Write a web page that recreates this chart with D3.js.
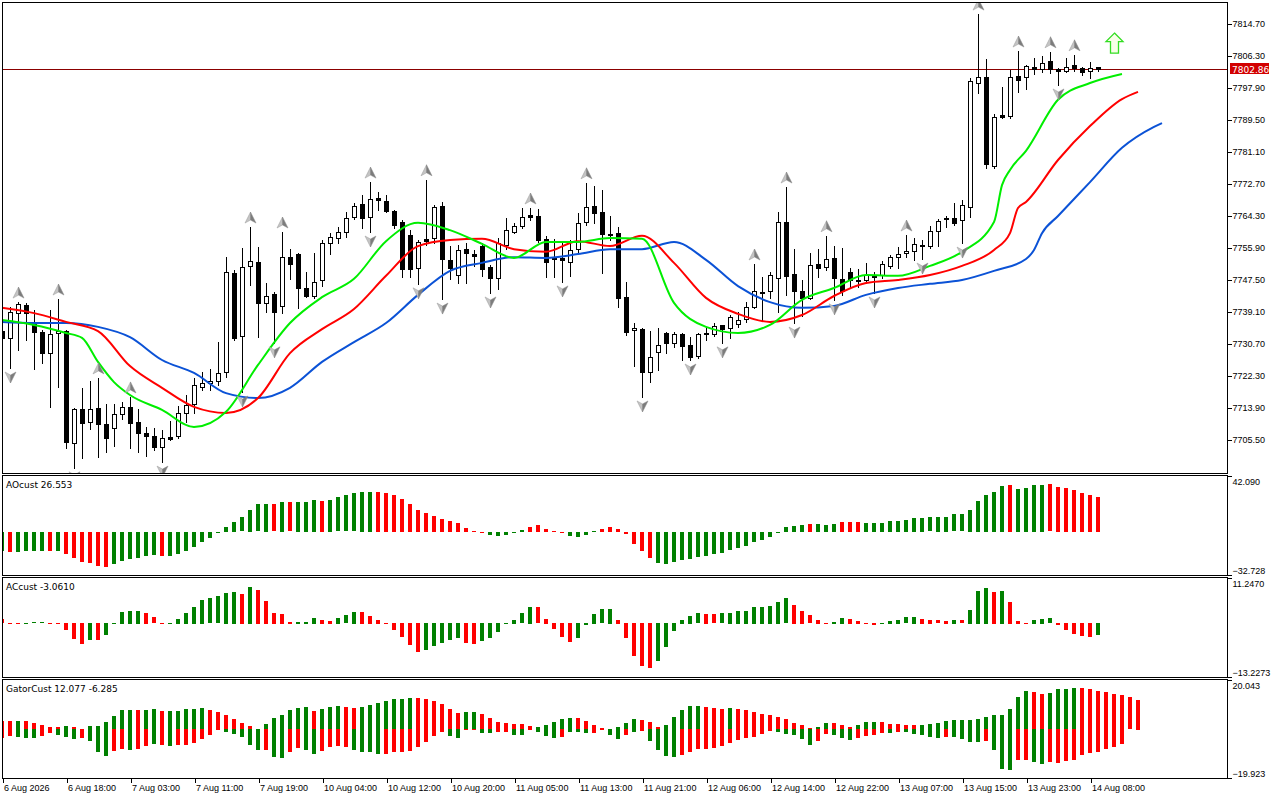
<!DOCTYPE html>
<html>
<head>
<meta charset="utf-8">
<style>
  body { margin: 0; background: #fff; }
  svg { display: block; font-family: Tahoma, "DejaVu Sans", sans-serif; }
  .axis text { font-size: 9px; fill: #000; }
  .axis path.domain { display: none; }
  .axis line { stroke: #000; shape-rendering: crispEdges; }
  .lbl { font-size: 9px; fill: #000; }
</style>
<script src="https://cdnjs.cloudflare.com/ajax/libs/d3/7.8.5/d3.min.js"></script>
</head>
<body>
<script>
// ---- data (hourly bars, index 0 = leftmost) ----
const open = [7734.1,7732.3,7738.8,7740.9,7736.2,7733.9,7728.3,7733.6,7734.1,7704.7,
  7713.6,7710.2,7713.9,7709.7,7708.7,7712.3,7714.2,7710.2,7707.3,7706.6,
  7703.7,7706.3,7706.6,7712.6,7715.0,7719.4,7720.5,7721.0,7723.4,7749.3,
  7732.8,7751.2,7752.2,7741.5,7743.8,7740.7,7753.5,7754.3,7745.4,7743.3,
  7747.5,7757.2,7758.5,7760.1,7764.0,7767.5,7764.0,7769.0,7768.2,7765.6,
  7762.7,7759.3,7750.7,7758.3,7758.5,7766.9,7752.8,7748.8,7755.6,7754.3,
  7756.4,7750.9,7748.0,7756.7,7760.1,7761.7,7764.6,7764.3,7758.3,7753.3,
  7753.3,7752.2,7755.6,7762.7,7766.9,7765.4,7759.6,7759.8,7743.0,7734.4,
  7734.6,7723.4,7728.6,7733.6,7731.0,7733.3,7730.4,7727.6,7733.6,7733.3,
  7735.7,7734.9,7736.0,7737.3,7740.4,7744.4,7744.6,7748.0,7762.7,7749.1,
  7744.6,7742.8,7751.7,7750.9,7753.3,7747.8,7749.6,7747.5,7747.5,7748.3,
  7748.8,7751.2,7753.5,7754.6,7755.1,7756.4,7756.4,7760.4,7763.8,7763.8,
  7763.3,7766.7,7799.2,7800.8,7777.4,7790.8,7790.5,7801.0,7800.8,7803.4,
  7802.9,7805.0,7802.9,7802.4,7803.9,7803.2,7802.4,7803.4];
const high = [7735.4,7740.4,7741.7,7741.5,7739.6,7734.4,7739.6,7742.5,7734.3,7713.9,
  7719.2,7721.0,7721.8,7715.0,7715.0,7715.5,7716.8,7713.6,7708.9,7708.7,
  7708.1,7710.5,7714.4,7717.3,7721.8,7723.4,7724.1,7731.2,7753.5,7750.1,
  7755.9,7761.4,7756.2,7746.7,7744.4,7760.1,7755.6,7754.6,7749.6,7754.6,
  7758.0,7759.8,7761.4,7765.4,7767.7,7769.8,7773.2,7770.6,7769.8,7765.8,
  7763.3,7760.6,7758.0,7773.8,7767.2,7768.0,7756.4,7756.7,7757.2,7755.4,
  7757.2,7751.4,7758.5,7763.8,7762.5,7766.4,7766.4,7766.1,7759.1,7758.3,
  7757.5,7758.0,7765.1,7773.0,7772.2,7771.1,7764.3,7761.4,7747.0,7736.2,
  7734.8,7734.1,7734.9,7733.9,7733.9,7733.6,7732.5,7733.6,7734.9,7736.2,
  7735.8,7738.3,7739.1,7741.7,7751.7,7748.3,7749.6,7765.4,7771.9,7755.6,
  7747.5,7754.6,7755.6,7759.1,7756.4,7755.9,7750.7,7750.4,7752.0,7749.6,
  7752.5,7754.1,7756.2,7759.3,7758.5,7758.0,7761.7,7763.5,7764.3,7767.7,
  7768.5,7800.5,7817.3,7805.5,7791.1,7798.2,7802.6,7807.6,7803.9,7805.8,
  7806.3,7807.4,7803.2,7805.8,7806.6,7803.4,7804.7,7803.5];
const low = [7730.4,7724.4,7729.1,7731.8,7724.1,7725.7,7714.2,7719.4,7703.4,7698.2,
  7700.8,7708.4,7701.0,7702.4,7703.9,7711.0,7703.4,7702.4,7701.3,7702.9,
  7699.7,7705.5,7706.0,7710.2,7712.6,7718.6,7718.6,7719.9,7722.0,7731.8,
  7718.1,7746.2,7732.5,7739.1,7731.0,7738.8,7747.8,7740.2,7743.0,7742.8,
  7745.9,7754.3,7757.2,7758.8,7763.5,7761.2,7760.1,7765.9,7765.4,7761.2,
  7748.3,7748.3,7746.5,7756.7,7757.2,7742.5,7747.8,7746.7,7746.7,7751.2,
  7748.6,7744.1,7745.1,7755.6,7759.8,7761.2,7763.3,7757.5,7748.3,7748.3,
  7747.0,7748.6,7754.9,7761.9,7762.5,7749.3,7758.0,7740.4,7733.1,7724.9,
  7716.8,7720.7,7723.9,7728.3,7729.9,7726.5,7726.5,7727.0,7731.8,7732.8,
  7731.0,7732.3,7735.2,7736.5,7740.2,7737.0,7742.8,7739.1,7743.6,7736.2,
  7738.1,7742.5,7748.3,7750.1,7742.3,7743.6,7745.4,7745.7,7746.7,7744.1,
  7748.0,7750.7,7750.7,7753.5,7752.8,7753.0,7755.9,7756.4,7761.4,7761.9,
  7757.2,7764.0,7796.6,7776.9,7776.9,7790.0,7790.0,7796.9,7797.6,7801.6,
  7802.1,7801.8,7798.7,7802.1,7802.4,7801.3,7800.5,7802.4];
const close = [7732.3,7739.1,7741.2,7738.8,7733.9,7728.3,7733.3,7734.1,7705.0,7713.6,
  7710.0,7713.6,7709.7,7706.0,7712.3,7714.2,7710.0,7707.3,7706.6,7703.7,
  7706.0,7705.8,7712.6,7714.7,7719.9,7720.5,7721.0,7723.1,7749.6,7732.3,
  7750.9,7752.5,7741.5,7743.3,7739.1,7753.5,7751.7,7745.4,7743.3,7747.0,
  7757.2,7758.8,7760.1,7763.8,7766.9,7763.8,7768.8,7768.5,7765.6,7761.9,
  7750.4,7750.4,7757.5,7757.7,7766.7,7753.0,7750.7,7755.4,7754.6,7753.8,
  7750.4,7748.0,7757.2,7760.6,7761.7,7764.0,7764.0,7758.0,7752.2,7753.0,
  7752.8,7755.4,7762.5,7766.7,7765.1,7759.6,7759.3,7742.8,7733.9,7734.9,
  7723.4,7727.3,7730.4,7731.0,7733.3,7730.2,7727.3,7733.3,7733.3,7735.4,
  7734.6,7737.8,7737.0,7740.4,7744.6,7744.1,7748.8,7762.7,7748.6,7744.6,
  7742.8,7751.4,7750.7,7753.0,7748.0,7744.6,7747.5,7747.2,7748.8,7748.6,
  7751.7,7753.5,7754.3,7755.1,7757.0,7756.7,7760.4,7763.0,7763.5,7762.5,
  7767.2,7799.7,7800.8,7778.0,7790.3,7790.3,7800.8,7800.0,7803.7,7802.9,
  7804.5,7802.9,7802.4,7803.4,7803.2,7802.1,7803.2,7802.86];

// Alligator lines (bar index, price), shifted forward 8 / 5 / 3 bars
const jawIdx = [0,4,8,12,16,20,24,28,32,36,40,44,48,52,56,60,64,68,72,76,80,84,88,92,96,100,104,108,112,116,120,124,128,129,130,132,136,140,144,145];
const jawVal = [7736.5,7736.2,7736.2,7735.2,7732.5,7726.5,7723.1,7717.8,7716.5,7719.2,7726.0,7731.2,7736.2,7743.6,7749.9,7752.0,7753.5,7753.3,7754.3,7755.6,7755.6,7757.5,7752.8,7745.9,7741.7,7740.2,7740.7,7743.6,7745.4,7746.5,7747.5,7749.9,7753.0,7755.4,7759.8,7764.3,7773.2,7782.2,7787.7,7788.7];
const teethIdx = [0,4,8,12,16,20,24,28,32,36,40,44,48,52,56,60,64,68,72,76,80,84,88,92,96,100,104,108,112,116,120,124,126,127,128,132,136,140,142];
const teethVal = [7740.2,7738.8,7736.5,7734.1,7724.9,7719.2,7714.2,7712.6,7716.5,7728.3,7734.6,7739.9,7748.6,7756.4,7758.0,7758.3,7755.6,7754.9,7757.7,7756.4,7759.1,7752.0,7742.8,7738.6,7736.5,7738.3,7743.3,7746.7,7747.5,7748.8,7751.2,7755.4,7759.8,7766.4,7768.0,7779.0,7787.9,7795.0,7796.9];
const lipsIdx = [0,4,8,10,12,14,16,20,24,28,32,36,40,44,48,52,56,60,64,68,72,76,80,84,88,92,96,100,104,108,112,116,120,124,125,126,128,132,136,140];
const lipsVal = [7737.0,7735.7,7733.6,7732.3,7726.0,7720.7,7717.3,7713.4,7708.9,7712.9,7725.2,7736.2,7743.0,7747.8,7757.7,7762.5,7760.6,7757.0,7753.3,7757.5,7757.5,7758.5,7758.3,7741.5,7735.2,7733.6,7735.7,7742.3,7745.4,7748.8,7748.6,7751.2,7754.9,7762.7,7772.4,7776.4,7781.4,7794.8,7799.2,7801.6];

const fractalUp = [2,7,12,16,31,35,46,53,66,73,94,98,103,113,122,127,131,134];
const fractalDown = [1,9,20,30,34,46,52,55,61,70,80,86,90,99,104,109,115,120,132];
const signalIdx = [139];
const signalPrice = [7809.7];

// AO, AC, Gator histograms; direction letters g = rising, r = falling
const ao = [-14.4,-15.1,-15.1,-14.4,-14.4,-14.4,-14.5,-14.4,-16.9,-19.4,
  -22.7,-23.2,-25.7,-26.4,-23.9,-21.9,-20.7,-19.4,-18.1,-17.4,
  -18.1,-18.0,-16.4,-14.4,-11.3,-7.3,-4.3,-0.5,3.8,7.6,
  10.8,16.6,20.7,21.2,20.7,22.7,22.2,22.3,22.7,24.2,
  23.4,24.2,25.9,27.5,29.0,30.2,30.3,30.1,29.5,28.0,
  24.9,21.2,16.4,14.1,12.1,9.8,8.3,6.8,3.0,0.5,
  -0.5,-2.0,-2.8,-2.0,-0.5,1.5,3.8,5.3,2.3,0.3,
  -0.5,-2.8,-3.5,-2.0,0.5,2.3,3.8,2.3,-1.8,-8.8,
  -14.4,-19.6,-23.2,-24.2,-22.4,-21.2,-20.2,-18.9,-17.9,-16.6,
  -15.6,-13.6,-11.8,-10.3,-7.3,-5.8,-3.5,-0.3,3.8,4.5,
  5.3,6.0,6.1,5.3,6.0,7.6,7.7,7.4,6.8,6.7,
  6.9,8.3,8.4,9.1,10.6,10.7,10.8,11.3,11.4,13.1,
  13.2,16.6,23.4,28.0,30.2,34.8,35.5,32.5,33.3,35.5,
  35.6,35.7,34.0,33.3,31.7,29.5,28.0,26.553];
const aoDir = "grggggrgrrrrrrggggggrgggggggggggggrgrgggrggggggrrrrrrrrrrrrrrgggggrrrrrggggrrrrrrrgggggggggggggggggggrgggrrrggggggggggggggggggrgg" + "ggrrrrrr";

const ac = [1.1,-0.1,-0.1,0.1,0.3,0.3,0.1,0.1,-1.8,-4.0,
  -5.3,-4.3,-4.3,-3.0,0.2,2.9,3.1,3.1,2.6,1.6,
  0.2,0.2,1.2,2.6,4.1,5.9,6.3,6.7,7.6,7.8,
  7.3,9.1,8.4,5.6,2.6,2.4,0.4,0.4,0.4,1.4,
  0.9,0.7,1.4,2.1,2.9,2.9,1.9,0.9,-0.2,-1.8,
  -3.5,-5.5,-7.2,-6.6,-5.7,-4.9,-4.3,-3.7,-4.9,-5.3,
  -4.4,-3.7,-2.2,-0.3,0.9,2.5,4.1,4.0,1.2,-1.5,
  -3.5,-4.7,-3.7,-0.4,2.4,3.5,3.6,0.9,-3.7,-8.2,
  -10.6,-11.1,-9.4,-5.9,-2.0,0.9,1.9,2.5,2.4,2.3,
  2.5,2.7,3.1,3.1,4.1,4.1,4.4,5.4,6.3,4.6,
  3.1,2.1,0.9,-0.2,0.4,1.4,1.2,0.7,-0.2,-0.5,
  -0.2,0.7,0.9,1.5,1.7,1.2,0.9,0.8,0.7,0.9,
  0.8,3.4,8.1,8.8,7.8,8.1,5.4,0.7,-0.2,0.9,
  1.2,1.3,-0.6,-1.8,-2.6,-3.3,-3.5,-3.061];
const acDir = "rrrgggrrrr" + "rgrgggggrr" + "rggggggggg" + "rgrrrrrggg" + "rrgggrrrrr" + "rrrgggggrr" + "gggggggrrr" + "rrgggggrrr" + "rrggggggrr" + "gggggggggr" + "rrrrggrrrr" + "gggggrrrrg" + "rgggrgrrrg" + "ggrrrrrg";

const gatorUp = [3.3,3.3,3.3,3.3,2.4,1.6,0.8,0.8,1.2,0.8,
  0.0,1.2,1.2,2.9,5.3,7.7,7.7,7.7,7.7,8.2,
  7.3,7.3,7.3,8.2,8.2,8.6,7.7,6.9,5.8,4.1,
  2.4,1.2,0.0,2.0,4.5,5.8,7.7,8.6,9.1,7.3,
  8.2,9.1,9.4,9.1,8.6,9.1,9.8,10.6,11.6,12.2,
  12.2,12.6,12.6,12.2,11.4,10.2,8.2,6.5,6.9,6.9,
  6.1,4.5,2.9,2.4,2.0,2.0,1.2,0.8,1.6,2.9,
  4.1,4.5,4.5,3.3,1.6,0.4,0.0,0.8,2.4,4.1,
  3.7,2.9,0.8,1.6,4.9,7.7,9.4,9.4,9.0,8.6,
  8.2,8.6,8.2,7.7,6.9,6.1,5.7,4.9,4.1,2.4,
  1.6,0.4,0.8,2.4,2.4,1.6,0.8,1.6,2.9,2.9,
  2.9,2.0,2.0,1.6,1.6,1.6,2.0,2.4,3.3,3.7,
  3.7,3.7,4.1,4.9,5.7,5.7,8.2,13.0,15.5,15.1,
  14.3,14.7,16.3,16.3,16.7,16.7,16.3,15.5,15.1,14.3,
  13.9,13.0,12.077];
const gatorUpDir = "rrgrrrrrgr" + "rggggggrgg" + "rgggggrrrr" + "rrgggggggr" + "gggrrggggg" + "ggrrrrrrgg" + "rrrrrrrggg" + "ggrrrrgggg" + "rrrgggggrr" + "rgrrrrrrrr" + "rrggrrrggg" + "rrrrrggggg" + "gggggggggr" + "rggggrrrrr" + "rrr";
const gatorLow = [-3.5,-2.7,-3.1,-3.5,-3.5,-2.7,-1.5,-2.3,-3.1,-3.9,
  -3.5,-4.8,-9.2,-10.9,-8.8,-8.2,-8.4,-8.0,-6.8,-6.0,
  -6.4,-6.8,-6.4,-6.4,-5.6,-3.9,-2.3,-0.4,-1.1,-1.9,
  -3.1,-6.4,-8.4,-8.4,-11.3,-11.7,-9.2,-7.6,-8.4,-10.1,
  -8.8,-7.2,-6.8,-7.2,-8.4,-9.2,-9.3,-10.1,-10.1,-9.2,
  -9.2,-8.8,-7.2,-5.2,-2.7,-1.1,-2.7,-3.5,-0.4,-0.4,
  -1.5,-1.5,-1.1,-1.1,-2.3,-2.3,-0.4,-1.1,-2.7,-3.5,
  -3.1,-1.1,-1.1,-1.5,-1.5,-0.4,-2.3,-3.9,-2.3,-1.1,
  -0.7,-4.8,-8.4,-10.9,-11.3,-10.5,-9.2,-8.0,-8.0,-7.6,
  -6.8,-5.6,-4.3,-3.5,-3.1,-1.9,-0.7,-1.1,-1.9,-2.3,
  -3.9,-6.4,-4.8,-1.9,-2.3,-3.5,-4.3,-3.5,-2.7,-2.3,
  -1.5,-1.5,-1.1,-1.1,-1.9,-2.3,-3.1,-3.5,-3.1,-3.1,
  -3.9,-5.2,-5.2,-4.8,-8.4,-16.2,-16.6,-12.5,-12.5,-13.3,
  -14.1,-13.3,-13.7,-12.9,-12.5,-10.5,-9.6,-9.2,-8.0,-7.2,
  -6.285];
const gatorLowDir = "rrgggrrggg" + "rgggrrgrrg" + "rgrrrrrrgg" + "gggrggrrgg" + "rrrrggggrr" + "rrrrrrggrr" + "ggrrggrggg" + "rgggrrggrg" + "rggggrrrrr" + "rrrrrrrggg" + "ggrrgggrrr" + "rgrgggggrg" + "gggrgggrrg" + "grrrrrrrrr" + "r";

const priceTicks = [7814.70,7806.30,7797.90,7789.50,7781.10,7772.70,7764.30,7755.90,7747.50,7739.10,7730.70,7722.30,7713.90,7705.50];
const lastPrice = 7802.86;
const timeIdx = [0,8,16,24,32,40,48,56,64,72,80,88,96,104,112,120,128,136];
const timeLabels = ["6 Aug 2026","6 Aug 18:00","7 Aug 03:00","7 Aug 11:00","7 Aug 19:00","10 Aug 04:00",
  "10 Aug 12:00","10 Aug 20:00","11 Aug 05:00","11 Aug 13:00","11 Aug 21:00","12 Aug 06:00",
  "12 Aug 14:00","12 Aug 22:00","13 Aug 07:00","13 Aug 15:00","13 Aug 23:00","14 Aug 08:00"];

// ---- layout ----
const L = 2, R = 1227;
const GREEN = "#008000", RED = "#ff0000";

const svg = d3.select("body").append("svg").attr("width", 1280).attr("height", 800);

const x = d3.scaleLinear().domain([0, 153]).range([2, 1226]);
const y = d3.scaleLinear().domain([7697.1, 7820.475]).range([472, 2]);
const aoY = d3.scaleLinear().domain([-32.728, 42.090]).range([575, 476]);
const acY = d3.scaleLinear().domain([-13.2273, 11.2470]).range([677, 578]);
const gY = d3.scaleLinear().domain([-19.923, 20.043]).range([778, 680]);

const defs = svg.append("defs");
function clip(id, top, bottom) {
  defs.append("clipPath").attr("id", id).append("rect")
    .attr("x", L).attr("y", top).attr("width", R - L).attr("height", bottom - top);
  return svg.append("g").attr("clip-path", `url(#${id})`);
}

// main price panel
const gMain = clip("cMain", 2, 473);

gMain.append("line")
  .attr("x1", L).attr("x2", R)
  .attr("y1", Math.round(y(lastPrice)) + 0.5).attr("y2", Math.round(y(lastPrice)) + 0.5)
  .attr("stroke", "#8b0000").attr("stroke-width", 1);

const idx = d3.range(open.length);
const candle = gMain.append("g").selectAll("g").data(idx).join("g");
candle.append("line")
  .attr("x1", i => x(i) + 0.5).attr("x2", i => x(i) + 0.5)
  .attr("y1", i => Math.round(y(high[i]))).attr("y2", i => Math.round(y(low[i])) + 1)
  .attr("stroke", "#000").attr("stroke-width", 1);
candle.append("rect")
  .attr("x", i => x(i) - 2 + 0.5)
  .attr("y", i => Math.round(y(Math.max(open[i], close[i]))) + 0.5)
  .attr("width", 4)
  .attr("height", i => Math.max(0.01, Math.round(y(Math.min(open[i], close[i]))) - Math.round(y(Math.max(open[i], close[i])))))
  .attr("fill", i => close[i] >= open[i] ? "#fff" : "#000")
  .attr("stroke", "#000").attr("stroke-width", 1);

const line = d3.line().x(d => x(d[0])).y(d => y(d[1])).curve(d3.curveMonotoneX);
[[jawIdx, jawVal, "#0b52d6"], [teethIdx, teethVal, "#ff0000"], [lipsIdx, lipsVal, "#00ee00"]]
  .forEach(([ix, v, c]) => {
    gMain.append("path").datum(d3.zip(ix, v)).attr("d", line)
      .attr("fill", "none").attr("stroke", c).attr("stroke-width", 2);
  });

function arrowGlyph(g, up) {
  const s = up ? 1 : -1;
  g.append("path").attr("d", `M0,${-6 * s} L-5.5,${5 * s} L0,${2 * s} Z`).attr("fill", "#c4c4c4").attr("stroke", "#9a9a9a").attr("stroke-width", 0.5);
  g.append("path").attr("d", `M0,${-6 * s} L5.5,${5 * s} L0,${2 * s} Z`).attr("fill", "#7c7c7c").attr("stroke", "#8a8a8a").attr("stroke-width", 0.5);
}
gMain.append("g").selectAll("g").data(fractalUp).join("g")
  .attr("transform", i => `translate(${x(i) + 0.5},${y(high[i]) - 9})`)
  .each(function () { arrowGlyph(d3.select(this), true); });
gMain.append("g").selectAll("g").data(fractalDown).join("g")
  .attr("transform", i => `translate(${x(i) + 0.5},${y(low[i]) + 9})`)
  .each(function () { arrowGlyph(d3.select(this), false); });

gMain.append("g").selectAll("path").data(d3.zip(signalIdx, signalPrice)).join("path")
  .attr("transform", d => `translate(${x(d[0]) + 0.5},${y(d[1])})`)
  .attr("d", "M0,-10 L8.5,-1.5 L4,-1.5 L4,10 L-4,10 L-4,-1.5 L-8.5,-1.5 Z")
  .attr("fill", "#f8ffe8").attr("stroke", "#33dd22").attr("stroke-width", 1.3);

// histogram panels
function histo(gp, scale, vals, dir) {
  gp.selectAll("rect.b").data(vals.map((v, i) => [i, v]).filter(d => d[1] !== 0)).join("rect")
    .attr("class", "b")
    .attr("x", d => x(d[0]) - 2)
    .attr("width", 4)
    .attr("y", d => Math.round(Math.min(scale(d[1]), scale(0))))
    .attr("height", d => Math.max(1, Math.round(Math.abs(scale(d[1]) - scale(0)))))
    .attr("fill", d => dir[d[0]] === "g" ? GREEN : RED);
}
histo(clip("cAo", 475, 575).append("g"), aoY, ao, aoDir);
histo(clip("cAc", 577, 677).append("g"), acY, ac, acDir);
const gGat = clip("cGat", 679, 778);
histo(gGat.append("g"), gY, gatorUp, gatorUpDir);
histo(gGat.append("g"), gY, gatorLow, gatorLowDir);

// frames
[[2, 473], [475, 575], [577, 677], [679, 778]].forEach(([t, b]) => {
  svg.append("rect").attr("x", L + 0.5).attr("y", t + 0.5).attr("width", R - L).attr("height", b - t)
    .attr("fill", "none").attr("stroke", "#000").attr("stroke-width", 1).style("shape-rendering", "crispEdges");
});

// price axis
svg.append("g").attr("class", "axis").attr("transform", `translate(${R + 0.5},0)`)
  .call(d3.axisRight(y).tickValues(priceTicks).tickSize(4).tickPadding(1).tickFormat(d3.format(".2f")));

// last price tag
const lp = Math.round(y(lastPrice));
svg.append("rect").attr("x", 1230).attr("y", lp - 6).attr("width", 39).attr("height", 11).attr("fill", "#d20000");
svg.append("text").attr("x", 1232).attr("y", lp + 3.5).attr("fill", "#fff").style("font-size", "9px").text(lastPrice.toFixed(2));

// indicator scale labels
function sideAxis(scale, vals, fmt) {
  const ax = svg.append("g").attr("class", "axis").attr("transform", `translate(${R + 0.5},0)`)
    .call(d3.axisRight(scale).tickValues(vals).tickSize(4).tickPadding(1).tickFormat(fmt));
  ax.selectAll("text").attr("dy", (d, k) => k === 0 ? "0.95em" : "-0.2em");
}
sideAxis(aoY, [42.090, -32.728], d3.format(".3f"));
sideAxis(acY, [11.2470, -13.2273], d3.format(".4f"));
sideAxis(gY, [20.043, -19.923], d3.format(".3f"));

// indicator names
svg.append("text").attr("class", "lbl").attr("x", 6).attr("y", 488).text("AOcust 26.553");
svg.append("text").attr("class", "lbl").attr("x", 6).attr("y", 590).text("ACcust -3.0610");
svg.append("text").attr("class", "lbl").attr("x", 6).attr("y", 692).text("GatorCust 12.077 -6.285");

// time axis
const tAx = svg.append("g").attr("class", "axis").attr("transform", "translate(0.5,778)")
  .call(d3.axisBottom(x).tickValues(timeIdx).tickSize(5).tickPadding(2)
    .tickFormat((d, k) => timeLabels[k]));
tAx.selectAll("text").attr("text-anchor", "start").attr("x", 1);
</script>
</body>
</html>
